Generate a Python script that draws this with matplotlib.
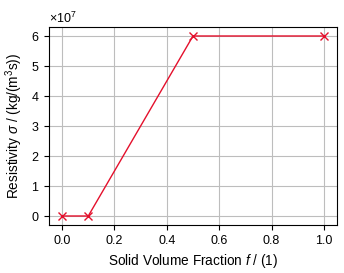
import matplotlib
matplotlib.use("Agg")
import matplotlib.pyplot as plt
from matplotlib.ticker import ScalarFormatter

plt.rcParams['font.family'] = ['Liberation Sans', 'DejaVu Sans']
plt.rcParams['mathtext.fontset'] = 'custom'
plt.rcParams['mathtext.it'] = 'Liberation Sans:italic'
plt.rcParams['mathtext.rm'] = 'Liberation Sans'
plt.rcParams['font.size'] = 8

fraction = [0.0, 0.1, 0.5, 1.0]
resistivity = [0.0, 0.0, 6.0e7, 6.0e7]

fig = plt.figure(figsize=(3.44, 2.73), dpi=100)
ax = fig.add_axes([49/344, 1-225/273, (337-49)/344, (225-27)/273])
ax.plot(fraction, resistivity, color='#e4102c', linewidth=1.0, marker='x',
        markersize=6, markeredgewidth=1.0, zorder=3)
ax.grid(True, color='#bdbdbd', linewidth=0.8)
ax.set_axisbelow(True)
ax.set_xlabel('Solid Volume Fraction $f$ / (1)', fontsize=9.8)
ax.set_ylabel('Resistivity $\\sigma$ / (kg/(m$^3$s))', fontsize=9.8)
ax.set_xticks([0.0, 0.2, 0.4, 0.6, 0.8, 1.0])
ax.set_yticks([0, 1e7, 2e7, 3e7, 4e7, 5e7, 6e7])
fmt = ScalarFormatter(useMathText=True)
fmt.set_powerlimits((0, 0))
ax.yaxis.set_major_formatter(fmt)
ax.yaxis.get_offset_text().set_fontsize(9)
ax.set_xlim(-0.05, 1.05)
ax.set_ylim(-0.3e7, 6.3e7)
ax.tick_params(labelsize=9)
fig.savefig('out.png', dpi=100)
